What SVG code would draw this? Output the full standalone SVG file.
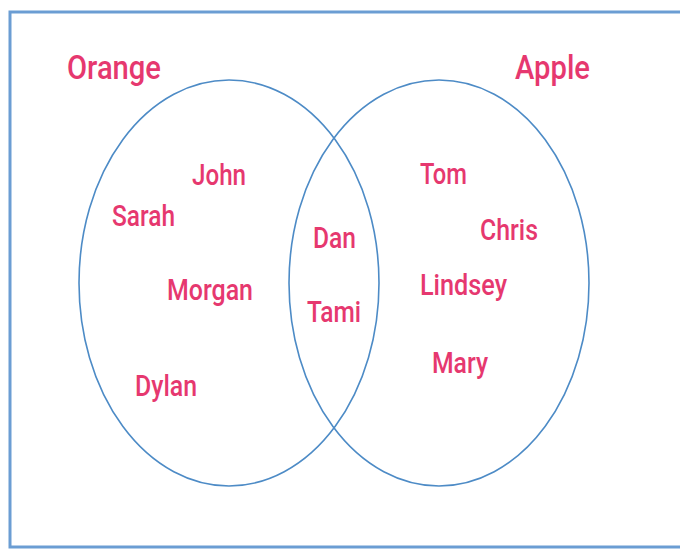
<svg xmlns="http://www.w3.org/2000/svg" width="680" height="550" viewBox="0 0 680 550">
<style>
.t{font-family:Roboto,"Liberation Sans",sans-serif;font-weight:500;fill:#e6386f;font-size:30px}
.h{font-size:34px}
.c{fill:none;stroke:#4d8bc6;stroke-width:1.6}
</style>
<rect x="0" y="0" width="680" height="550" fill="#ffffff"/>
<rect x="10" y="12" width="690" height="535" fill="none" stroke="#6b9dd3" stroke-width="3"/>
<g id="set-orange">
<ellipse class="c" cx="229" cy="283" rx="150" ry="203"/>
<text class="t h" x="67" y="79" textLength="94" lengthAdjust="spacingAndGlyphs">Orange</text>
</g>
<g id="set-apple">
<ellipse class="c" cx="439" cy="283" rx="150" ry="203"/>
<text class="t h" x="515" y="79" textLength="75" lengthAdjust="spacingAndGlyphs">Apple</text>
</g>
<g id="names-orange">
<text class="t" x="192" y="185" textLength="54" lengthAdjust="spacingAndGlyphs">John</text>
<text class="t" x="112" y="226" textLength="63" lengthAdjust="spacingAndGlyphs">Sarah</text>
<text class="t" x="167" y="300" textLength="86" lengthAdjust="spacingAndGlyphs">Morgan</text>
<text class="t" x="135" y="396" textLength="62" lengthAdjust="spacingAndGlyphs">Dylan</text>
</g>
<g id="names-both">
<text class="t" x="313" y="248" textLength="43" lengthAdjust="spacingAndGlyphs">Dan</text>
<text class="t" x="307" y="322" textLength="54" lengthAdjust="spacingAndGlyphs">Tami</text>
</g>
<g id="names-apple">
<text class="t" x="420" y="184" textLength="47" lengthAdjust="spacingAndGlyphs">Tom</text>
<text class="t" x="480" y="240" textLength="58" lengthAdjust="spacingAndGlyphs">Chris</text>
<text class="t" x="420" y="295" textLength="87" lengthAdjust="spacingAndGlyphs">Lindsey</text>
<text class="t" x="432" y="373" textLength="56" lengthAdjust="spacingAndGlyphs">Mary</text>
</g>
<g id="connectors"></g>
</svg>
